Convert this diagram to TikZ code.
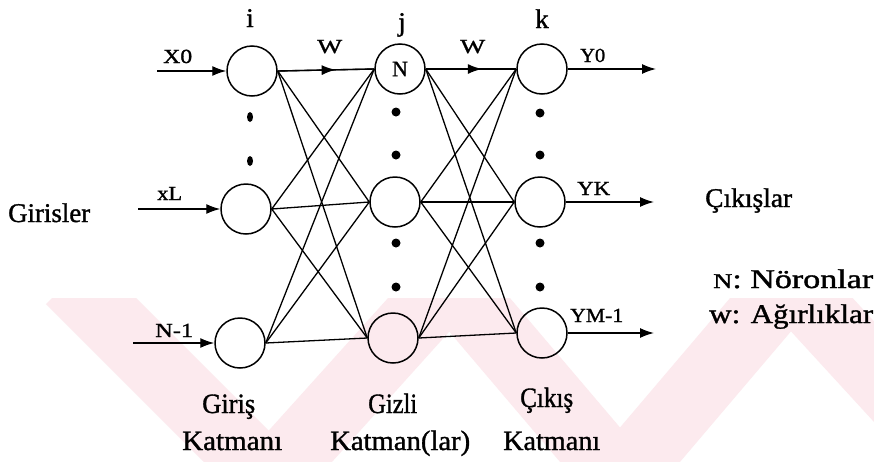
\documentclass[tikz,border=0pt]{standalone}
\usepackage{fontspec}
\setmainfont{Liberation Serif}
\newfontfamily\hv{Liberation Serif}[FakeBold=1.2]
\usetikzlibrary{arrows.meta,decorations.markings}
\definecolor{wm}{RGB}{252,234,238}
\newcommand{\tw}[2]{\resizebox{#1pt}{\height}{#2}}
\begin{document}
\begin{tikzpicture}[x=1pt,y=-1pt,
  neuron/.style={circle,draw,line width=1.5pt,minimum size=50pt,inner sep=0pt},
  conn/.style={line width=1.3pt},
  tipped/.style={line width=1.4pt,-{Latex[length=14pt,width=10pt]}},
  midarrow/.style={line width=1.4pt,decoration={markings,mark=at position #1 with {\arrow{Latex[length=14pt,width=10pt]}}},postaction={decorate}},
  small/.style={anchor=base west,inner sep=0pt,font=\hv\fontsize{20}{20}\selectfont},
  big/.style={anchor=base west,inner sep=0pt,font=\hv\fontsize{27}{27}\selectfont},
  layer/.style={anchor=base west,inner sep=0pt,font=\hv\fontsize{28}{28}\selectfont},
  idx/.style={anchor=base,inner sep=0pt,font=\hv\fontsize{27}{27}\selectfont},
  dot/.style={fill=black,draw=none}]
\useasboundingbox (0,0) rectangle (874,461);
\fill[white] (0,0) rectangle (874,461);
% faint watermark
\begin{scope}
\clip (0,298) rectangle (874,461);
\draw[wm,line width=68pt,line join=miter] (70,280) -- (270,480) -- (450,280) -- (620,480) -- (790,280) -- (900,400);
\end{scope}
% neurons
\node[neuron] (i0) at (252,71) {};
\node[neuron] (i1) at (246,209) {};
\node[neuron] (i2) at (240,343) {};
\node[neuron,font=\hv\fontsize{22}{22}\selectfont] (h0) at (400,69) {N};
\node[neuron] (h1) at (395,202) {};
\node[neuron] (h2) at (393,338) {};
\node[neuron] (o0) at (542,69) {};
\node[neuron] (o1) at (540,202) {};
\node[neuron] (o2) at (542,333) {};
% connections
\foreach \a in {i0,i1,i2}{\foreach \b in {h0,h1,h2}{\draw[conn] (\a.east) -- (\b.west);}}
\foreach \a in {h0,h1,h2}{\foreach \b in {o0,o1,o2}{\draw[conn] (\a.east) -- (\b.west);}}
\draw[midarrow=0.6] (i0.east) -- (h0.west);
\draw[midarrow=0.62] (h0.east) -- (o0.west);
% inputs
\coordinate (x0s) at (157,71);
\coordinate (xls) at (138,209);
\coordinate (xns) at (133,343);
\draw[tipped] (x0s) -- (i0.west);
\draw[tipped] (xls) -- (i1.west);
\draw[tipped] (xns) -- (i2.west);
% outputs
\coordinate (y0e) at (656,69);
\coordinate (yke) at (654,202);
\coordinate (yme) at (654,333);
\draw[tipped] (o0.east) -- (y0e);
\draw[tipped] (o1.east) -- (yke);
\draw[tipped] (o2.east) -- (yme);
% dots
\fill[dot] (250,117) ellipse (3pt and 5pt);
\fill[dot] (250,161) ellipse (3pt and 5pt);
\foreach \y in {112,155,243,287}{\fill[dot] (396,\y) circle (4.5pt);}
\foreach \y in {113,155,243,287}{\fill[dot] (540,\y) circle (4.5pt);}
% indices
\node[idx] (li) at (250,27) {i};
\node[idx] (lj) at (402,31) {j};
\node[idx] (lk) at (542,28) {k};
% small labels
\node[small] (lx0) at (163,63) {\tw{29}{X0}};
\node[small] (lw1) at (317,53) {\tw{25}{W}};
\node[small] (lw2) at (460,53) {\tw{25}{W}};
\node[small] (ly0) at (580,62) {\tw{25}{Y0}};
\node[small] (lxl) at (157,200) {\tw{25}{xL}};
\node[small] (lyk) at (577,195) {\tw{33}{YK}};
\node[small] (lxn) at (155,337) {\tw{38}{N-1}};
\node[small] (lym) at (570,322) {\tw{53}{YM-1}};
% big labels
\node[big] (gir) at (8,222) {\tw{82}{Girisler}};
\node[big] (cik) at (705,207) {\tw{87}{Çıkışlar}};
\node[big] (nor) at (713,288) {\tw{160}{{\fontsize{21}{21}\selectfont N}: Nöronlar}};
\node[big] (agr) at (709,323) {\tw{164}{w: Ağırlıklar}};
% layer labels
\node[layer] (g1) at (202,413) {\tw{53}{Giriş}};
\node[layer] (g2) at (182,450) {\tw{100}{Katmanı}};
\node[layer] (z1) at (368,413) {\tw{49}{Gizli}};
\node[layer] (z2) at (330,450) {\tw{140}{Katman(lar)}};
\node[layer] (c1) at (520,407) {\tw{53}{Çıkış}};
\node[layer] (c2) at (503,450) {\tw{97}{Katmanı}};
\end{tikzpicture}
\end{document}
